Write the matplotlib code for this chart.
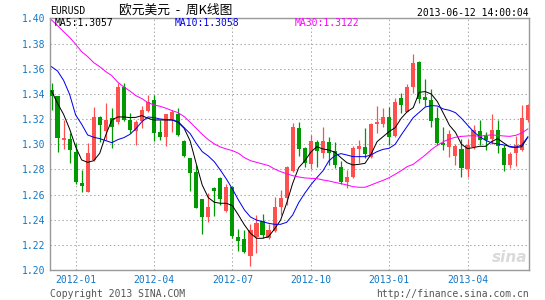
import numpy as np
import pandas as pd
import matplotlib
matplotlib.use("Agg")
import matplotlib.pyplot as plt

plt.rcParams['font.family'] = ['DejaVu Sans Mono', 'Noto Sans CJK SC']

# ---------------- data: weekly EUR/USD candles ----------------
opens = [1.3429, 1.3381, 1.3032, 1.3042, 1.2942, 1.2690, 1.2624, 1.2876, 1.3220, 1.3106,
         1.3206, 1.3175, 1.3458, 1.3193, 1.3106, 1.3185, 1.3265, 1.3354, 1.3095, 1.3061,
         1.3193, 1.3238, 1.3026, 1.2889, 1.2778, 1.2563, 1.2421, 1.2651, 1.2735, 1.2471,
         1.2664, 1.2265, 1.2246, 1.2114, 1.2262, 1.2394, 1.2259, 1.2312, 1.2503, 1.2574,
         1.2788, 1.3127, 1.2974, 1.2847, 1.3021, 1.2929, 1.3021, 1.2947, 1.2817, 1.2698,
         1.2738, 1.2963, 1.2981, 1.2902, 1.3159, 1.3159, 1.3214, 1.3069, 1.3365, 1.3259,
         1.3458, 1.3651, 1.3373, 1.3352, 1.3212, 1.3013, 1.2981, 1.2907, 1.2960, 1.2804,
         1.2981, 1.3103, 1.3063, 1.3045, 1.3116, 1.2974, 1.2833, 1.2931, 1.2952, 1.3196]
highs = [1.3484, 1.3381, 1.3193, 1.3087, 1.3008, 1.2796, 1.3008, 1.3299, 1.3225, 1.3325,
         1.3286, 1.3484, 1.3484, 1.3246, 1.3193, 1.3307, 1.3392, 1.3392, 1.3193, 1.3233,
         1.3272, 1.3286, 1.3032, 1.2894, 1.2836, 1.2569, 1.2611, 1.2664, 1.2743, 1.2683,
         1.2672, 1.2331, 1.2317, 1.2365, 1.2439, 1.2444, 1.2365, 1.2585, 1.2640, 1.2825,
         1.3172, 1.3175, 1.2981, 1.3071, 1.3034, 1.3140, 1.3061, 1.3021, 1.2870, 1.2796,
         1.2987, 1.3034, 1.3127, 1.3172, 1.3307, 1.3286, 1.3299, 1.3365, 1.3405, 1.3476,
         1.3714, 1.3661, 1.3521, 1.3439, 1.3296, 1.3138, 1.3111, 1.3005, 1.3045, 1.3042,
         1.3151, 1.3196, 1.3098, 1.3243, 1.3196, 1.2992, 1.2939, 1.3063, 1.3310, 1.3317]
lows = [1.3270, 1.2942, 1.2960, 1.2849, 1.2685, 1.2624, 1.2619, 1.2868, 1.3021, 1.3034,
        1.2968, 1.3159, 1.3185, 1.3087, 1.2995, 1.3132, 1.3259, 1.3026, 1.3034, 1.2987,
        1.3101, 1.3069, 1.2902, 1.2630, 1.2492, 1.2286, 1.2381, 1.2434, 1.2519, 1.2466,
        1.2254, 1.2153, 1.2140, 1.2034, 1.2135, 1.2254, 1.2249, 1.2302, 1.2439, 1.2519,
        1.2783, 1.2910, 1.2823, 1.2804, 1.2823, 1.2889, 1.2836, 1.2815, 1.2685, 1.2656,
        1.2730, 1.2849, 1.2894, 1.2894, 1.3087, 1.3140, 1.2995, 1.3061, 1.3246, 1.3254,
        1.3405, 1.3325, 1.3307, 1.3140, 1.2995, 1.2952, 1.2902, 1.2833, 1.2741, 1.2738,
        1.2963, 1.2992, 1.2952, 1.3005, 1.2931, 1.2788, 1.2815, 1.2825, 1.2947, 1.3177]
closes = [1.3381, 1.3048, 1.3048, 1.2955, 1.2704, 1.2672, 1.2929, 1.3220, 1.3153, 1.3193,
          1.3140, 1.3458, 1.3193, 1.3114, 1.3175, 1.3275, 1.3339, 1.3087, 1.3061, 1.3238,
          1.3254, 1.3074, 1.2910, 1.2770, 1.2497, 1.2421, 1.2500, 1.2630, 1.2566, 1.2659,
          1.2275, 1.2233, 1.2145, 1.2317, 1.2373, 1.2280, 1.2317, 1.2505, 1.2571, 1.2817,
          1.3135, 1.2960, 1.2852, 1.3029, 1.2947, 1.3026, 1.2929, 1.2836, 1.2704, 1.2738,
          1.2968, 1.2987, 1.2921, 1.3159, 1.3180, 1.3214, 1.3061, 1.3339, 1.3312, 1.3458,
          1.3643, 1.3360, 1.3352, 1.3185, 1.3011, 1.2995, 1.3079, 1.2987, 1.2815, 1.2992,
          1.3114, 1.3032, 1.3032, 1.3111, 1.2984, 1.2833, 1.2926, 1.2992, 1.3212, 1.3310]

ma5 = [1.3423, 1.3325, 1.3238, 1.3122, 1.2981, 1.2876, 1.2857, 1.2870, 1.2929, 1.3074,
       1.3193, 1.3217, 1.3217, 1.3212, 1.3214, 1.3228, 1.3206, 1.3193, 1.3193, 1.3193,
       1.3193, 1.3175, 1.3127, 1.3026, 1.2847, 1.2677, 1.2577, 1.2540, 1.2532, 1.2532,
       1.2513, 1.2439, 1.2360, 1.2294, 1.2254, 1.2254, 1.2267, 1.2328, 1.2399, 1.2532,
       1.2690, 1.2815, 1.2868, 1.2937, 1.2981, 1.2963, 1.2955, 1.2937, 1.2894, 1.2854,
       1.2836, 1.2841, 1.2849, 1.2921, 1.3021, 1.3061, 1.3101, 1.3132, 1.3206, 1.3259,
       1.3291, 1.3413, 1.3418, 1.3399, 1.3339, 1.3246, 1.3151, 1.3095, 1.3000, 1.2966,
       1.2974, 1.2984, 1.2984, 1.3021, 1.3045, 1.3011, 1.2979, 1.2974, 1.2981, 1.3057]
ma10 = [1.3616, 1.3582, 1.3508, 1.3397, 1.3233, 1.3159, 1.3074, 1.3056, 1.3045, 1.3029,
        1.3013, 1.3037, 1.3053, 1.3079, 1.3124, 1.3180, 1.3217, 1.3212, 1.3201, 1.3196,
        1.3193, 1.3180, 1.3132, 1.3085, 1.3008, 1.2942, 1.2907, 1.2862, 1.2796, 1.2725,
        1.2646, 1.2558, 1.2479, 1.2423, 1.2399, 1.2386, 1.2373, 1.2365, 1.2365, 1.2381,
        1.2439, 1.2537, 1.2611, 1.2677, 1.2735, 1.2788, 1.2868, 1.2910, 1.2926, 1.2915,
        1.2902, 1.2902, 1.2902, 1.2915, 1.2942, 1.2960, 1.2968, 1.3000, 1.3074, 1.3143,
        1.3212, 1.3254, 1.3296, 1.3307, 1.3304, 1.3280, 1.3270, 1.3251, 1.3206, 1.3153,
        1.3101, 1.3061, 1.3032, 1.3011, 1.3003, 1.2995, 1.2984, 1.2976, 1.2995, 1.3058]
ma30 = [1.3987, 1.3942, 1.3894, 1.3849, 1.3794, 1.3735, 1.3696, 1.3648, 1.3616, 1.3577,
        1.3545, 1.3492, 1.3455, 1.3423, 1.3386, 1.3362, 1.3331, 1.3312, 1.3302, 1.3286,
        1.3267, 1.3251, 1.3220, 1.3175, 1.3127, 1.3079, 1.3037, 1.3003, 1.2979, 1.2963,
        1.2950, 1.2929, 1.2894, 1.2870, 1.2857, 1.2844, 1.2831, 1.2804, 1.2783, 1.2767,
        1.2751, 1.2741, 1.2733, 1.2730, 1.2728, 1.2717, 1.2709, 1.2698, 1.2688, 1.2677,
        1.2664, 1.2659, 1.2659, 1.2677, 1.2696, 1.2714, 1.2735, 1.2762, 1.2791, 1.2823,
        1.2841, 1.2878, 1.2915, 1.2958, 1.2992, 1.3021, 1.3042, 1.3056, 1.3063, 1.3066,
        1.3069, 1.3063, 1.3071, 1.3074, 1.3071, 1.3066, 1.3063, 1.3071, 1.3090, 1.3122]

weeks = pd.date_range('2011-12-09', periods=len(closes), freq='W-FRI')
quarter_months = ['2012-01', '2012-04', '2012-07', '2012-10', '2013-01', '2013-04']
y_ticks = [1.20, 1.22, 1.24, 1.26, 1.28, 1.30, 1.32, 1.34, 1.36, 1.38, 1.40]

# ---------------- plot ----------------
W, H = 545, 300
fig = plt.figure(figsize=(W / 100, H / 100), dpi=100)
fig.patch.set_facecolor('white')
ax = fig.add_axes([50 / W, (H - 270.3) / H, (529 - 50) / W, (270.3 - 18.3) / H])

red, green = '#ff5050', '#009900'
o = np.array(opens); c = np.array(closes)
hi = np.array(highs); lo = np.array(lows)
idx = np.arange(len(c))
cols = np.where(c >= o, red, green)

ax.vlines(idx, lo, hi, colors=cols, linewidth=0.9, zorder=2)
ax.bar(idx, np.maximum(np.abs(c - o), 0.0006), bottom=np.minimum(o, c),
       width=0.68, color=cols, linewidth=0, zorder=3)

ax.plot(idx, ma5, color='black', lw=0.72, zorder=4)
ax.plot(idx, ma10, color='#0000ee', lw=0.72, zorder=4)
ax.plot(idx, ma30, color='#ff00ff', lw=0.72, zorder=4)

ax.set_xlim(-0.25, 79.2)
ax.set_ylim(1.20, 1.40)

# quarter gridlines at first week of month
xt = [int(np.argmax(weeks >= pd.Timestamp(m + '-01'))) for m in quarter_months]
ax.set_xticks(xt)
ax.set_xticklabels(quarter_months)
ax.set_yticks(y_ticks)
ax.set_yticklabels(['%.2f' % v for v in y_ticks])
ax.tick_params(length=0, labelsize=7, labelcolor='#1078c8')
ax.tick_params(axis='y', pad=3.6)
ax.tick_params(axis='x', pad=3.6)
ax.grid(True, color='#aaaaaa', linestyle=(0, (1.4, 2.4)), linewidth=0.75)
ax.set_axisbelow(True)
for s in ax.spines.values():
    s.set_color('#999999')
    s.set_linewidth(1.0)

# MA legend inside plot
def px(x, y):
    return x / W, 1 - y / H

fig.text(*px(55, 23.5), 'MA5:1.3057', color='black', fontsize=7, va='center')
fig.text(*px(175, 23.5), 'MA10:1.3058', color='#0000ee', fontsize=7, va='center')
fig.text(*px(295, 23.5), 'MA30:1.3122', color='#ff00ff', fontsize=7, va='center')

# header
fig.text(*px(50, 11.5), 'EURUSD', color='black', fontsize=7, va='center')
fig.text(*px(119, 10), '欧元美元  -  周K线图', color='black', fontsize=9.2, va='center',
         family=['Noto Sans CJK SC', 'DejaVu Sans'])
fig.text(*px(529, 12.5), '2013-06-12 14:00:04', color='black', fontsize=7,
         va='center', ha='right')

# footer
fig.text(*px(50, 294), 'Copyright 2013 SINA.COM', color='#555555', fontsize=7, va='center')
fig.text(*px(529, 294), 'http://finance.sina.com.cn', color='#555555', fontsize=7,
         va='center', ha='right')

# watermark
fig.text(*px(527, 258), 'sina', color='#dadada', fontsize=11, va='center', ha='right',
         style='italic', weight='bold', family='DejaVu Sans')

fig.savefig('out.png', dpi=100)
